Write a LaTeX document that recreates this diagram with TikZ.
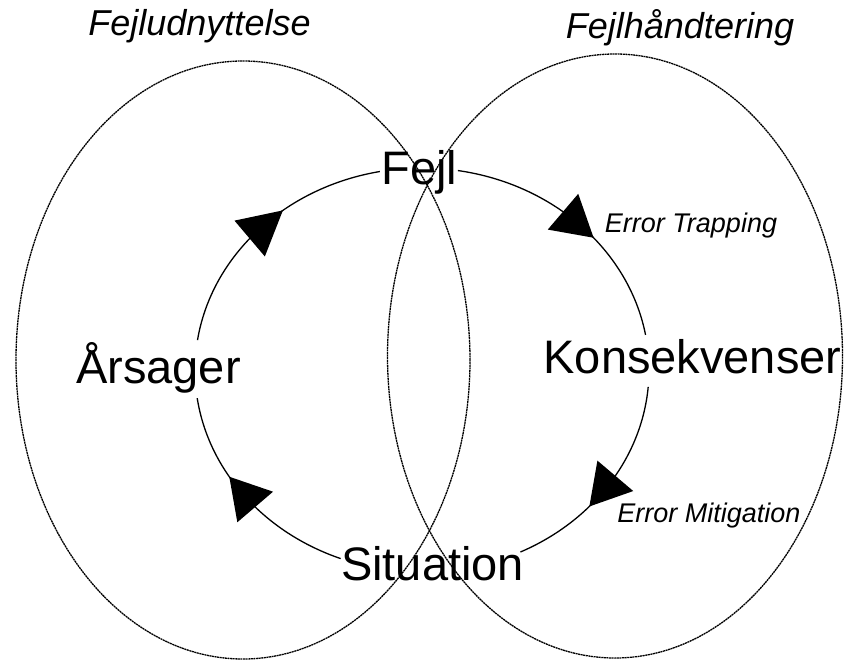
\documentclass[tikz,border=0pt]{standalone}
\usepackage{fontspec}
\setmainfont{Liberation Sans}
\usetikzlibrary{calc,shapes.geometric}
\begin{document}
\begin{tikzpicture}[x=1pt,y=1pt,
  txt/.style={inner sep=0pt, anchor=base},
  big/.style={txt, font=\fontsize{47}{50}\selectfont},
  head/.style={txt, font=\fontsize{36}{40}\selectfont\itshape},
  small/.style={txt, font=\fontsize{27}{30}\selectfont\itshape},
  region/.style={ellipse, draw, inner sep=0pt, line width=1.3pt,
                 dash pattern=on 2pt off 0.6pt},
  loopline/.style={draw, line width=1.3pt},
  ell/.style={x radius=227, y radius=202}
]
\useasboundingbox (0,0) rectangle (845,662);

% the two overlapping areas
\node[region, minimum width=454pt, minimum height=598pt] (analyse) at (243,302) {};
\node[region, minimum width=455pt, minimum height=604pt] (handling) at (615,306) {};

% area titles
\node[head] (t-left)  at (199.5,626) {Fejludnyttelse};
\node[head] (t-right) at (680,623)   {Fejlhåndtering};

% stages of the cycle
\node[big] (fejl)    at (419.5,477) {Fejl};
\node[big] (aarsag)  at (158.5,279) {Årsager};
\node[big] (konseq)  at (692.5,289) {Konsekvenser};
\node[big] (situ)    at (432.5,82)  {Situation};

% transition labels
\node[small] (trap) at (691,429) {Error Trapping};
\node[small] (miti) at (709,140) {Error Mitigation};

\begin{scope}[shift={(422,292)}]
  % gap ends of the cycle around the stage names
  \coordinate (gap-fw) at (100.7:227 and 202);
  \coordinate (gap-fe) at (80.9:227 and 202);
  \coordinate (gap-kn) at (10:227 and 202);
  \coordinate (gap-ks) at (-4.8:227 and 202);
  \coordinate (gap-se) at (-64.3:227 and 202);
  \coordinate (gap-sw) at (249:227 and 202);
  \coordinate (gap-as) at (188:227 and 202);
  \coordinate (gap-an) at (171.5:227 and 202);

  % arrowheads on the arcs
  \foreach \tip/\base [count=\i] in {127.8/139.4, 40.9/51.6, -42.5/-31.6, 211.9/222.7} {
    \coordinate (tip\i) at (\tip:227 and 202);
    \coordinate (mid\i) at (\base:227 and 202);
    \fill ($(mid\i)!23.5pt!90:(tip\i)$) -- (tip\i) -- ($(mid\i)!23.5pt!-90:(tip\i)$) -- cycle;
  }
\end{scope}

% cycle arcs, running clockwise
\draw[loopline] (gap-fe) arc[ell, start angle=80.9,  end angle=10];
\draw[loopline] (gap-ks) arc[ell, start angle=-4.8,  end angle=-64.3];
\draw[loopline] (gap-sw) arc[ell, start angle=249,   end angle=188];
\draw[loopline] (gap-an) arc[ell, start angle=171.5, end angle=100.7];
\end{tikzpicture}
\end{document}
